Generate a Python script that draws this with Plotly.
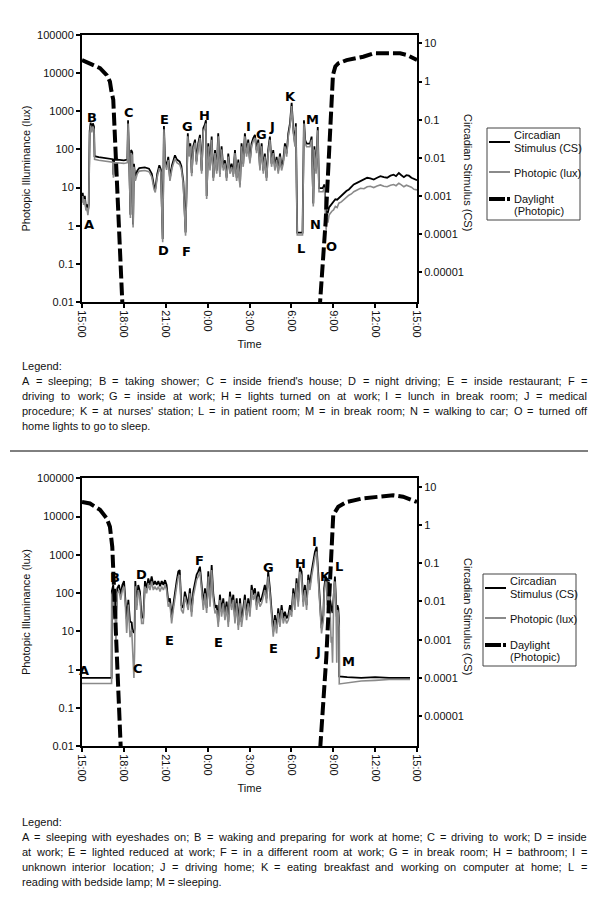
import math
import plotly.graph_objects as go

# ---------------- data ----------------
tick_hours = [0, 3, 6, 9, 12, 15, 18, 21, 24]
tick_labels = ["15:00", "18:00", "21:00", "0:00", "3:00", "6:00", "9:00", "12:00", "15:00"]
lux_ticks = [0.01, 0.1, 1, 10, 100, 1000, 10000, 100000]
lux_tick_labels = ["0.01", "0.1", "1", "10", "100", "1000", "10000", "100000"]
cs_ticks = [0.00001, 0.0001, 0.001, 0.01, 0.1, 1, 10]
cs_tick_labels = ["0.00001", "0.0001", "0.001", "0.01", "0.1", "1", "10"]

# top panel (hours after 15:00)
top_hours = [0.00, 0.05, 0.12, 0.20, 0.28, 0.35, 0.42, 0.48, 0.55, 0.62, 0.70, 0.78, 0.86, 0.90,
             1.20, 1.60, 2.00, 2.20, 2.25, 2.30, 2.70, 3.00, 3.25, 3.30, 3.37, 3.47, 3.52, 3.60,
             3.66, 3.72, 3.82, 3.96, 4.10, 4.50, 4.80, 5.00, 5.16, 5.25, 5.39, 5.54, 5.65, 5.78,
             5.87, 5.95, 6.06, 6.18, 6.30, 6.45, 6.66, 6.80, 7.00, 7.12, 7.26, 7.35, 7.42, 7.50,
             7.58, 7.67, 7.76, 7.86, 7.97, 8.10, 8.20, 8.33, 8.45, 8.57, 8.69, 8.80, 8.88, 8.93,
             9.05, 9.17, 9.29, 9.41, 9.53, 9.65, 9.76, 9.88, 10.00, 10.12, 10.24, 10.36, 10.48,
             10.60, 10.72, 10.84, 10.96, 11.08, 11.20, 11.32, 11.43, 11.55, 11.67, 11.79, 11.91,
             12.03, 12.15, 12.27, 12.39, 12.51, 12.63, 12.75, 12.87, 12.99, 13.10, 13.22, 13.34,
             13.46, 13.58, 13.70, 13.82, 13.94, 14.06, 14.18, 14.30, 14.42, 14.54, 14.66, 14.78,
             14.90, 15.02, 15.14, 15.26, 15.32, 15.42, 15.80, 15.90, 15.99, 16.09, 16.33, 16.45,
             16.57, 16.65, 16.77, 16.89, 16.98, 17.25, 17.37, 17.49, 17.55, 17.62, 17.70, 17.78,
             17.90, 18.02, 18.15, 18.28, 18.40, 18.58, 18.76, 18.94, 19.12, 19.30, 19.47, 19.70,
             19.95, 20.20, 20.43, 20.66, 20.90, 21.14, 21.38, 21.62, 21.86, 22.10, 22.33, 22.50,
             22.70, 22.88, 23.06, 23.24, 23.42, 23.60, 23.78, 24.00]
top_photopic = [4, 6, 3.5, 5, 2.5, 3, 1.9, 3, 250, 420, 280, 400, 330, 55,
                52, 50, 48, 46, 18, 45, 44, 43, 45, 480, 60, 1.6, 80, 70,
                0.9, 35, 15, 23, 27, 28, 26, 19, 9, 7.5, 19, 32, 25, 0.37,
                340, 43, 29, 53, 15, 32, 58, 45, 40, 30, 12, 1.6, 0.55, 10,
                220, 65, 120, 20, 100, 150, 40, 120, 200, 23, 300, 370, 480, 5,
                120, 28, 180, 15, 80, 23, 220, 19, 100, 28, 43, 15, 65,
                23, 35, 19, 80, 15, 45, 10, 120, 35, 220, 65, 150,
                43, 120, 165, 200, 80, 150, 28, 120, 23, 65, 15, 80,
                180, 35, 80, 28, 53, 23, 65, 28, 43, 120, 65, 220,
                400, 1380, 270, 118, 400, 0.57, 0.57, 480, 145, 118, 118, 180,
                3.2, 100, 23, 320, 7.8, 7.8, 10, 0.78, 1.6, 1.2, 1.9, 2.1,
                2.4, 2.6, 3.2, 3.0, 3.9, 4.2, 4.7, 5.5, 6.3, 6.8, 7.8, 8.6,
                9.6, 9.3, 10.5, 10.8, 10, 11, 11.7, 10.8, 10.5, 11.5, 12, 11.2,
                13, 11.8, 10.5, 11.5, 11, 10.2, 9, 8.7]
top_cs = [8.0e-4, 1.2e-3, 7.0e-4, 1.0e-3, 5.0e-4, 6.0e-4, 3.8e-4, 6.0e-4, 0.05, 0.084, 0.056, 0.08, 0.066, 0.011,
          0.0104, 0.01, 0.0096, 0.0092, 0.0036, 0.009, 0.0088, 0.0086, 0.009, 0.096, 0.012, 3.2e-4, 0.016, 0.014,
          1.8e-4, 0.007, 0.003, 0.0046, 0.0054, 0.0056, 0.0052, 0.0038, 0.0018, 0.0015, 0.0038, 0.0064, 0.005, 7.4e-5,
          0.068, 0.0086, 0.0058, 0.0106, 0.003, 0.0064, 0.0116, 0.009, 0.008, 0.006, 0.0024, 3.2e-4, 1.1e-4, 0.002,
          0.044, 0.013, 0.024, 0.004, 0.02, 0.03, 0.008, 0.024, 0.04, 0.0046, 0.06, 0.074, 0.096, 0.001,
          0.024, 0.0056, 0.036, 0.003, 0.016, 0.0046, 0.044, 0.0038, 0.02, 0.0056, 0.0086, 0.003, 0.013,
          0.0046, 0.007, 0.0038, 0.016, 0.003, 0.009, 0.002, 0.024, 0.007, 0.044, 0.013, 0.03,
          0.0086, 0.024, 0.033, 0.04, 0.016, 0.03, 0.0056, 0.024, 0.0046, 0.013, 0.003, 0.016,
          0.036, 0.007, 0.016, 0.0056, 0.0106, 0.0046, 0.013, 0.0056, 0.0086, 0.024, 0.013, 0.044,
          0.08, 0.276, 0.054, 0.0236, 0.08, 1.1e-4, 1.1e-4, 0.096, 0.029, 0.0236, 0.0236, 0.036,
          6.4e-4, 0.02, 0.0046, 0.064, 0.0016, 0.0016, 0.002, 2.7e-4, 4.0e-4, 3.8e-4, 5.0e-4, 5.4e-4,
          6.4e-4, 7.2e-4, 8.2e-4, 8.0e-4, 8.9e-4, 1.0e-3, 1.2e-3, 1.35e-3, 1.48e-3, 1.7e-3, 2.0e-3, 2.2e-3,
          2.45e-3, 2.6e-3, 3.0e-3, 2.9e-3, 2.7e-3, 3.0e-3, 3.3e-3, 3.1e-3, 3.0e-3, 3.4e-3, 3.6e-3, 3.3e-3,
          4.0e-3, 3.5e-3, 3.1e-3, 3.5e-3, 3.4e-3, 3.0e-3, 2.8e-3, 2.6e-3]
top_day_hours = [0.0, 0.57, 1.29, 1.77, 2.0, 2.1, 2.24, 2.95,
                 17.0, 17.45, 17.75, 17.98, 18.15, 18.36, 18.96, 20.15, 20.87, 21.83, 22.79, 23.27, 24.0]
top_daylight = [22000, 18000, 13500, 8900, 6000, 3500, 2000, 0.003,
                0.005, 1.2, 400, 9000, 15000, 18000, 22000, 27000, 33000, 34000, 33000, 30000, 22000]

# bottom panel
bot_hours = [0.00, 2.12, 2.14, 2.24, 2.30, 2.36, 2.43, 2.53, 2.65, 2.77, 2.89, 3.01, 3.10, 3.20,
             3.32, 3.44, 3.56, 3.62, 3.67, 3.72, 3.77, 3.82, 3.92, 4.03, 4.15, 4.27, 4.39, 4.51,
             4.63, 4.75, 4.87, 4.99, 5.11, 5.23, 5.35, 5.47, 5.59, 5.71, 5.83, 5.95, 6.06, 6.18,
             6.30, 6.42, 6.54, 6.66, 6.78, 6.90, 7.00, 7.12, 7.25, 7.37, 7.49, 7.61, 7.73, 7.85,
             7.97, 8.09, 8.21, 8.33, 8.45, 8.57, 8.69, 8.81, 8.93, 9.05, 9.17, 9.29, 9.41, 9.53,
             9.65, 9.76, 9.88, 10.00, 10.12, 10.24, 10.36, 10.48, 10.60, 10.72, 10.84, 10.96, 11.08,
             11.20, 11.32, 11.43, 11.55, 11.67, 11.79, 11.91, 12.03, 12.15, 12.27, 12.39, 12.51,
             12.63, 12.75, 12.87, 12.99, 13.10, 13.22, 13.34, 13.46, 13.58, 13.70, 13.82, 13.94,
             14.06, 14.18, 14.30, 14.42, 14.54, 14.66, 14.78, 14.90, 15.02, 15.14, 15.25, 15.37,
             15.49, 15.61, 15.73, 15.85, 15.97, 16.09, 16.21, 16.33, 16.45, 16.57, 16.69, 16.81,
             16.92, 17.04, 17.16, 17.29, 17.35, 17.45, 17.53, 17.60, 17.68, 17.76, 17.85, 17.89,
             17.95, 18.05, 18.12, 18.20, 18.25, 18.30, 18.36, 18.42, 18.43, 19.00, 20.00, 21.00,
             22.00, 23.00, 23.50]
bot_photopic = [0.43, 0.43, 90, 120, 20, 44, 5, 98, 120, 66, 120, 148, 54, 9,
                50, 7, 11, 2.2, 1.2, 0.6, 3, 150, 36, 120, 81, 16, 16, 148,
                98, 180, 120, 200, 120, 148, 120, 148, 110, 148, 120, 160, 120, 44,
                54, 16, 36, 81, 148, 270, 295, 36, 29.5, 81, 54, 36, 98, 24,
                81, 148, 220, 270, 360, 120, 36, 98, 30, 270, 44, 400, 66, 29.5,
                36, 13, 66, 24, 54, 19.6, 44, 13, 81, 36, 66, 16, 54,
                10.8, 54, 13, 36, 66, 19.6, 54, 24, 120, 66, 98, 36,
                81, 44, 54, 81, 120, 54, 270, 98, 29.5, 7.2, 19.6, 8.8,
                29.5, 13, 36, 16, 24, 16, 19.6, 36, 24, 98, 36, 180,
                44, 360, 270, 44, 120, 36, 220, 120, 270, 490, 890, 1210,
                270, 66, 8.8, 19.6, 98, 200, 180, 36, 148, 54, 5, 7.2,
                1.5, 148, 200, 44, 1.5, 36, 29.5, 13, 0.42, 0.45, 0.5, 0.52,
                0.55, 0.55, 0.55]
bot_cs = [1.0e-4, 1.0e-4, 0.019, 0.027, 0.006, 0.011, 0.003, 0.022, 0.027, 0.015, 0.027, 0.034, 0.012, 0.0035,
          0.011, 0.003, 0.0028, 0.0016, 0.0017, 0.0015, 0.002, 0.034, 0.008, 0.027, 0.018, 0.0038, 0.0038, 0.034,
          0.022, 0.04, 0.027, 0.045, 0.027, 0.034, 0.027, 0.034, 0.025, 0.034, 0.027, 0.036, 0.027, 0.0099,
          0.012, 0.0038, 0.008, 0.018, 0.034, 0.061, 0.066, 0.008, 0.0068, 0.018, 0.012, 0.008, 0.022, 0.0054,
          0.018, 0.034, 0.05, 0.061, 0.081, 0.027, 0.008, 0.022, 0.0068, 0.061, 0.0099, 0.09, 0.015, 0.0068,
          0.008, 0.0029, 0.015, 0.0054, 0.012, 0.0044, 0.0099, 0.0029, 0.018, 0.008, 0.015, 0.0036, 0.012,
          0.0024, 0.012, 0.0029, 0.008, 0.015, 0.0044, 0.012, 0.0054, 0.027, 0.015, 0.022, 0.008,
          0.018, 0.0099, 0.012, 0.018, 0.027, 0.012, 0.061, 0.022, 0.0066, 0.0016, 0.0044, 0.002,
          0.0066, 0.0029, 0.008, 0.0036, 0.0054, 0.0036, 0.0044, 0.008, 0.0054, 0.022, 0.008, 0.04,
          0.0099, 0.081, 0.061, 0.0099, 0.027, 0.008, 0.05, 0.027, 0.061, 0.11, 0.2, 0.27,
          0.061, 0.015, 0.002, 0.0044, 0.022, 0.045, 0.04, 0.008, 0.033, 0.012, 0.006, 0.006,
          0.005, 0.033, 0.045, 0.0099, 0.004, 0.008, 0.0066, 0.0029, 1.1e-4, 1.05e-4, 1.0e-4, 1.05e-4,
          1.0e-4, 1.0e-4, 1.0e-4]
bot_day_hours = [0.0, 0.57, 1.29, 1.77, 2.0, 2.17, 2.85,
                 17.02, 17.5, 17.8, 18.0, 18.36, 18.96, 20.15, 21.35, 22.3, 23.0, 24.0]
bot_daylight = [24000, 22000, 15000, 9000, 5400, 1600, 0.002,
                0.005, 2, 800, 11000, 18000, 24000, 30000, 33000, 36000, 33000, 24000]

# event letters: (letter, hour, lux level)
top_events = [("A", 0.52, 1.1), ("B", 0.72, 690), ("C", 3.37, 910), ("E", 5.89, 620),
              ("D", 5.85, 0.23), ("F", 7.5, 0.21), ("G", 7.57, 400), ("H", 8.76, 760),
              ("I", 11.9, 390), ("G", 12.85, 250), ("J", 13.63, 390), ("K", 14.97, 2500),
              ("M", 16.5, 620), ("L", 15.67, 0.26), ("N", 16.74, 1.05), ("O", 17.88, 0.29)]
bot_events = [("A", 0.14, 0.95), ("B", 2.36, 260), ("D", 4.27, 300), ("C", 4.03, 1.07),
              ("E", 6.3, 5.9), ("F", 8.4, 720), ("E", 9.77, 5.2), ("G", 13.35, 470),
              ("E", 13.7, 3.5), ("H", 15.67, 575), ("I", 16.69, 2200), ("K", 17.48, 275),
              ("L", 18.43, 490), ("J", 16.88, 2.9), ("M", 19.08, 1.6)]

top_text = ["Legend:",
            "A = sleeping; B = taking shower; C = inside friend's house; D = night driving; E = inside restaurant; F =",
            "driving to work; G = inside at work; H = lights turned on at work; I = lunch in break room; J = medical",
            "procedure; K = at nurses' station; L = in patient room; M = in break room; N = walking to car; O = turned off",
            "home lights to go to sleep."]
bot_text = ["Legend:",
            "A = sleeping with eyeshades on; B = waking and preparing for work at home; C = driving to work; D = inside",
            "at work; E = lighted reduced at work; F = in a different room at work; G = in break room; H = bathroom; I =",
            "unknown interior location; J = driving home; K = eating breakfast and working on computer at home; L =",
            "reading with bedside lamp; M = sleeping."]

# ---------------- layout helpers ----------------
W, H = 600, 913
ML, MR, MT, MB = 82, 183, 35, 167
PW = W - ML - MR
PH = H - MT - MB
FONT = "Liberation Sans, Arial, sans-serif"
LFONT = "DejaVu Sans, Verdana, sans-serif"
GRAY = "#8a8a8a"


def px(X):
    return (X - ML) / PW


def py(Y):
    return (H - MB - Y) / PH


AW = {' ': 278, "'": 191, '(': 333, ')': 333, ',': 278, '-': 333, '.': 278, ':': 278, ';': 278, '=': 584,
      'A': 667, 'B': 667, 'C': 722, 'D': 722, 'E': 667, 'F': 611, 'G': 778, 'H': 722, 'I': 278, 'J': 500,
      'K': 667, 'L': 556, 'M': 833, 'N': 722, 'O': 778, 'P': 667, 'Q': 778, 'R': 722, 'S': 667, 'T': 611,
      'U': 722, 'V': 667, 'W': 944, 'X': 667, 'Y': 667, 'Z': 611,
      'a': 556, 'b': 556, 'c': 500, 'd': 556, 'e': 556, 'f': 278, 'g': 556, 'h': 556, 'i': 222, 'j': 222,
      'k': 500, 'l': 222, 'm': 833, 'n': 556, 'o': 556, 'p': 556, 'q': 556, 'r': 333, 's': 500, 't': 278,
      'u': 556, 'v': 500, 'w': 722, 'x': 500, 'y': 500, 'z': 500}


def tw(s, size):
    return sum(AW.get(c, 556) for c in s) * size / 1000.0


fig = go.Figure()

# top panel traces: CS on base (right) axis, lux on overlay (left) axis
fig.add_trace(go.Scatter(x=top_hours, y=top_cs, mode="lines", xaxis="x", yaxis="y",
                         line=dict(color="black", width=1.8), name="Circadian Stimulus (CS)", showlegend=False))
fig.add_trace(go.Scatter(x=top_hours, y=top_photopic, mode="lines", xaxis="x", yaxis="y2",
                         line=dict(color=GRAY, width=1.6), name="Photopic (lux)", showlegend=False))
fig.add_trace(go.Scatter(x=top_day_hours, y=top_daylight, mode="lines", xaxis="x", yaxis="y2",
                         line=dict(color="black", width=4, dash="13px,4px"), name="Daylight (Photopic)",
                         showlegend=False))
# bottom panel
fig.add_trace(go.Scatter(x=bot_hours, y=bot_cs, mode="lines", xaxis="x2", yaxis="y3",
                         line=dict(color="black", width=1.8), name="Circadian Stimulus (CS)", showlegend=False))
fig.add_trace(go.Scatter(x=bot_hours, y=bot_photopic, mode="lines", xaxis="x2", yaxis="y4",
                         line=dict(color=GRAY, width=1.6), name="Photopic (lux)", showlegend=False))
fig.add_trace(go.Scatter(x=bot_day_hours, y=bot_daylight, mode="lines", xaxis="x2", yaxis="y4",
                         line=dict(color="black", width=4, dash="13px,4px"), name="Daylight (Photopic)",
                         showlegend=False))

tickfont = dict(family=FONT, size=11, color="#111")
xcommon = dict(range=[0, 24], tickvals=tick_hours, ticktext=tick_labels, tickangle=90,
               ticks="outside", ticklen=4, tickwidth=1.5, tickcolor="black",
               showline=True, linecolor="black", linewidth=2, mirror=True, showgrid=False,
               zeroline=False, tickfont=tickfont,
               title=dict(text="Time", font=dict(family=FONT, size=11, color="#111"), standoff=4))
lcommon = dict(type="log", range=[-2, 5], tickvals=lux_ticks, ticktext=lux_tick_labels, side="left",
               ticks="outside", ticklen=4, tickwidth=1.5, tickcolor="black",
               showline=True, linecolor="black", linewidth=2, showgrid=False, zeroline=False,
               tickfont=tickfont,
               title=dict(text="Photopic Illuminance (lux)", font=dict(family=FONT, size=11, color="#111"),
                          standoff=4))
rcommon = dict(type="log", range=[-5.78, 1.22], tickvals=cs_ticks, ticktext=cs_tick_labels, side="right",
               ticks="outside", ticklen=3, tickwidth=1.5, tickcolor="black",
               showline=True, linecolor="black", linewidth=2, showgrid=False, zeroline=False,
               tickfont=tickfont)

top_dom = [py(302), py(35)]
bot_dom = [0, py(478.3)]

fig.update_layout(
    width=W, height=H,
    margin=dict(l=ML, r=MR, t=MT, b=MB, pad=0),
    paper_bgcolor="white", plot_bgcolor="white",
    showlegend=False,
    xaxis=dict(domain=[0, 1], anchor="y", **xcommon),
    yaxis=dict(domain=top_dom, anchor="x", **rcommon),
    yaxis2=dict(overlaying="y", anchor="x", **lcommon),
    xaxis2=dict(domain=[0, 1], anchor="y3", **xcommon),
    yaxis3=dict(domain=bot_dom, anchor="x2", **rcommon),
    yaxis4=dict(overlaying="y3", anchor="x2", **lcommon),
)

ann = []
shapes = []

# event letters
for letters, yref, xref in ((top_events, "y2", "x"), (bot_events, "y4", "x2")):
    for letter, hr, lux in letters:
        ann.append(dict(text="<b>%s</b>" % letter, x=hr, y=math.log10(lux), xref=xref, yref=yref,
                        showarrow=False, font=dict(family=LFONT, size=13, color="black"),
                        xanchor="center", yanchor="middle"))

# right axis titles (reading top-to-bottom)
for cy in (173, 617):
    ann.append(dict(text="Circadian Stimulus (CS)", x=px(468), y=py(cy), xref="paper", yref="paper",
                    textangle=90, showarrow=False, font=dict(family=FONT, size=11, color="#111"),
                    xanchor="center", yanchor="middle"))

# manual legends
for dx, dy in ((0, 0), (-4, 446)):
    bx0, by0, bx1, by1 = 487 + dx, 128 + dy, 580 + dx, 220 + dy
    shapes.append(dict(type="rect", xref="paper", yref="paper", x0=px(bx0), x1=px(bx1), y0=py(by0), y1=py(by1),
                       line=dict(color="#444", width=1), fillcolor="white"))
    lx0, lx1, tx = bx0 + 2, bx0 + 23, bx0 + 26
    shapes.append(dict(type="line", xref="paper", yref="paper", x0=px(lx0), x1=px(lx1),
                       y0=py(by0 + 14), y1=py(by0 + 14), line=dict(color="black", width=2)))
    shapes.append(dict(type="line", xref="paper", yref="paper", x0=px(lx0), x1=px(lx1),
                       y0=py(by0 + 44), y1=py(by0 + 44), line=dict(color=GRAY, width=2)))
    shapes.append(dict(type="line", xref="paper", yref="paper", x0=px(lx0), x1=px(lx0 + 16),
                       y0=py(by0 + 71), y1=py(by0 + 71), line=dict(color="black", width=4)))
    shapes.append(dict(type="line", xref="paper", yref="paper", x0=px(lx0 + 18), x1=px(lx1),
                       y0=py(by0 + 71), y1=py(by0 + 71), line=dict(color="black", width=4)))
    for txt, ty in (("Circadian", 7), ("Stimulus (CS)", 20), ("Photopic (lux)", 45),
                    ("Daylight", 71), ("(Photopic)", 83)):
        ann.append(dict(text=txt, x=px(tx), y=py(by0 + ty), xref="paper", yref="paper", showarrow=False,
                        xanchor="left", yanchor="middle", borderpad=0,
                        font=dict(family=FONT, size=11, color="#111")))


# caption paragraphs (justified)
def add_paragraph(lines, y0):
    x_left, x_right, size, step = 21, 586, 11, 15
    for i, line in enumerate(lines):
        Y = y0 + i * step
        justify = 0 < i < len(lines) - 1
        if not justify:
            ann.append(dict(text=line, x=px(x_left), y=py(Y), xref="paper", yref="paper", showarrow=False,
                            xanchor="left", yanchor="middle", borderpad=0,
                            font=dict(family=FONT, size=size, color="#111")))
            continue
        words = line.split(" ")
        widths = [tw(w, size) for w in words]
        gap = (x_right - x_left - sum(widths)) / (len(words) - 1)
        x = x_left
        for w, wd in zip(words, widths):
            ann.append(dict(text=w, x=px(x), y=py(Y), xref="paper", yref="paper", showarrow=False,
                            xanchor="left", yanchor="middle", borderpad=0,
                            font=dict(family=FONT, size=size, color="#111")))
            x += wd + gap


add_paragraph(top_text, 366)
add_paragraph(bot_text, 822)

shapes.append(dict(type="line", xref="paper", yref="paper", x0=px(10), x1=px(588), y0=py(451), y1=py(451),
                   line=dict(color="black", width=1)))

fig.update_layout(annotations=ann, shapes=shapes)
fig.write_html("out.html", config={"displayModeBar": False},
               post_script="document.body.style.margin='0';document.body.style.overflow='hidden';")
